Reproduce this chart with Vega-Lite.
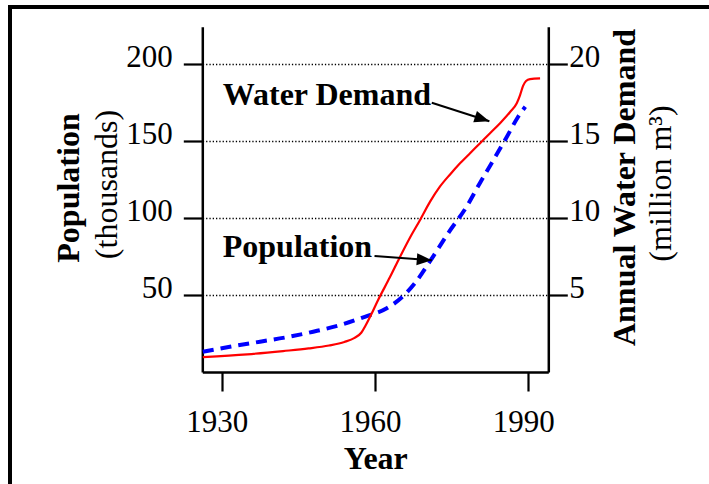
{
  "$schema": "https://vega.github.io/schema/vega-lite/v6.json",
  "width": 699,
  "height": 477,
  "autosize": "none",
  "padding": {"left": 10, "top": 7, "right": 0, "bottom": 0},
  "background": "white",
  "config": {
    "font": "Liberation Serif",
    "view": {"stroke": "black", "strokeWidth": 4, "strokeDash": [699, 1176, 477], "strokeCap": "square"},
    "axis": {
      "domainColor": "black", "tickColor": "black", "labelColor": "black", "titleColor": "black",
      "labelFont": "Liberation Serif", "titleFont": "Liberation Serif",
      "labelFontSize": 31, "titleFontSize": 32, "labelFontWeight": "normal",
      "domainWidth": 2.5, "tickWidth": 2.2, "tickSize": 19,
      "grid": false, "labelFlush": false, "labelOverlap": false
    }
  },
  "datasets": {
    "pop": [
      {"year": 1926.3, "pop": 13.2},
      {"year": 1931.6, "pop": 16.4},
      {"year": 1937.5, "pop": 19.7},
      {"year": 1942.7, "pop": 22.6},
      {"year": 1947.9, "pop": 26.2},
      {"year": 1953.2, "pop": 30.5},
      {"year": 1958.0, "pop": 35.9},
      {"year": 1962.3, "pop": 41.4},
      {"year": 1965.2, "pop": 48.4},
      {"year": 1967.8, "pop": 57.7},
      {"year": 1970.6, "pop": 71.2},
      {"year": 1974.3, "pop": 90.2},
      {"year": 1977.9, "pop": 107.4},
      {"year": 1980.5, "pop": 122.7},
      {"year": 1982.8, "pop": 135.7},
      {"year": 1985.8, "pop": 152.9},
      {"year": 1988.0, "pop": 165.9},
      {"year": 1989.4, "pop": 172.4}
    ],
    "demand": [
      {"year": 1926.3, "demand": 0.96},
      {"year": 1935.0, "demand": 1.15},
      {"year": 1942.0, "demand": 1.36},
      {"year": 1947.0, "demand": 1.53},
      {"year": 1951.0, "demand": 1.72},
      {"year": 1954.0, "demand": 1.95},
      {"year": 1956.0, "demand": 2.22},
      {"year": 1957.3, "demand": 2.55},
      {"year": 1958.2, "demand": 3.05},
      {"year": 1959.2, "demand": 3.70},
      {"year": 1960.6, "demand": 4.68},
      {"year": 1962.9, "demand": 6.15},
      {"year": 1964.9, "demand": 7.49},
      {"year": 1966.85, "demand": 8.74},
      {"year": 1968.81, "demand": 9.88},
      {"year": 1970.77, "demand": 11.07},
      {"year": 1972.72, "demand": 12.06},
      {"year": 1974.68, "demand": 12.84},
      {"year": 1976.63, "demand": 13.56},
      {"year": 1978.59, "demand": 14.22},
      {"year": 1980.55, "demand": 14.87},
      {"year": 1982.5, "demand": 15.52},
      {"year": 1984.46, "demand": 16.17},
      {"year": 1986.42, "demand": 16.90},
      {"year": 1987.73, "demand": 17.47},
      {"year": 1988.38, "demand": 18.00},
      {"year": 1988.96, "demand": 18.59},
      {"year": 1989.55, "demand": 18.91},
      {"year": 1990.33, "demand": 19.03},
      {"year": 1992.29, "demand": 19.08}
    ],
    "labels": [
      {"year": 1930.2, "pop": 173.5, "label": "Water Demand"},
      {"year": 1930.2, "pop": 74.9, "label": "Population"}
    ],
    "arrows": [
      {"name": "water", "year": 1971.1, "pop": 175.0, "year2": 1982.37, "pop2": 162.95},
      {"name": "pop", "year": 1959.9, "pop": 75.4, "year2": 1971.1, "pop2": 72.6}
    ],
    "heads": [
      {"name": "water", "year": 1982.37, "pop": 162.95},
      {"name": "pop", "year": 1971.1, "pop": 72.6}
    ]
  },
  "encoding": {
    "x": {
      "field": "year", "type": "quantitative",
      "scale": {"domain": [1926.2, 1993.9], "range": [192.3, 538.3], "zero": false, "nice": false},
      "axis": {
        "values": [1930, 1960, 1990], "format": "d", "offset": -112,
        "labelOffset": -5, "labelBaseline": "alphabetic", "labelPadding": 40.5,
        "title": "Year", "titleFontWeight": "bold", "titleBaseline": "alphabetic", "titleY": 96.3
      }
    }
  },
  "layer": [
    {
      "data": {"name": "pop"},
      "mark": {"type": "line", "color": "#0000ff", "strokeWidth": 4, "strokeDash": [11, 7], "interpolate": "monotone"},
      "encoding": {
        "y": {
          "field": "pop", "type": "quantitative",
          "scale": {"domain": [0, 224.4], "range": [365, 19.7], "zero": false, "nice": false},
          "axis": {
            "orient": "left", "offset": -192.3, "values": [50, 100, 150, 200],
            "grid": true, "gridColor": "black", "gridDash": [1.3, 2], "gridWidth": 1.3, "gridOpacity": 1,
            "labelPadding": 11, "labelBaseline": "alphabetic", "labelOffset": 2,
            "title": "Population", "titleFontWeight": "bold", "titleAngle": 270,
            "titleAlign": "center", "titleBaseline": "alphabetic", "titleX": -123.5, "titleY": 180.5
          }
        }
      }
    },
    {
      "data": {"name": "demand"},
      "mark": {"type": "line", "color": "#ff0000", "strokeWidth": 2.2, "interpolate": "monotone"},
      "encoding": {
        "y": {
          "field": "demand", "type": "quantitative",
          "scale": {"domain": [0, 22.44], "range": [365, 19.7], "zero": false, "nice": false},
          "axis": {
            "orient": "right", "offset": -160.7, "values": [5, 10, 15, 20],
            "labelPadding": 1.5, "labelBaseline": "alphabetic", "labelOffset": 2,
            "title": "Annual Water Demand", "titleFontWeight": "bold", "titleAngle": 270,
            "titleAlign": "center", "titleBaseline": "alphabetic", "titleX": 86.2, "titleY": 180
          }
        }
      }
    },
    {
      "data": {"name": "pop"},
      "mark": {"type": "line", "opacity": 0},
      "encoding": {
        "y": {
          "field": "pop", "type": "quantitative",
          "scale": {"domain": [0, 224.4], "range": [365, 19.7], "zero": false, "nice": false},
          "axis": {
            "orient": "left", "offset": -192.3, "domain": false, "ticks": false, "labels": false, "grid": false,
            "title": "(thousands)", "titleFontWeight": "normal", "titleAngle": 270,
            "titleAlign": "center", "titleBaseline": "alphabetic", "titleX": -86.3, "titleY": 177
          }
        }
      }
    },
    {
      "data": {"name": "demand"},
      "mark": {"type": "line", "opacity": 0},
      "encoding": {
        "y": {
          "field": "demand", "type": "quantitative",
          "scale": {"domain": [0, 22.44], "range": [365, 19.7], "zero": false, "nice": false},
          "axis": {
            "orient": "right", "offset": -160.7, "domain": false, "ticks": false, "labels": false, "grid": false,
            "title": "(million m³)", "titleFontWeight": "normal", "titleAngle": 270,
            "titleAlign": "center", "titleBaseline": "alphabetic", "titleX": 121.7, "titleY": 176
          }
        }
      }
    },
    {
      "data": {"name": "labels"},
      "mark": {"type": "text", "align": "left", "baseline": "alphabetic", "font": "Liberation Serif", "fontWeight": "bold", "fontSize": 32, "color": "black"},
      "encoding": {
        "y": {"field": "pop", "type": "quantitative", "scale": {"domain": [0, 224.4], "range": [365, 19.7], "zero": false, "nice": false}, "axis": null},
        "text": {"field": "label"}
      }
    },
    {
      "data": {"name": "arrows"},
      "mark": {"type": "rule", "color": "black", "strokeWidth": 2},
      "encoding": {
        "y": {"field": "pop", "type": "quantitative", "scale": {"domain": [0, 224.4], "range": [365, 19.7], "zero": false, "nice": false}, "axis": null},
        "x2": {"field": "year2"},
        "y2": {"field": "pop2"}
      }
    },
    {
      "data": {"name": "heads"},
      "transform": [{"filter": "datum.name == 'water'"}],
      "mark": {"type": "point", "shape": "M0,0L-2,-0.8L-2,0.8Z", "filled": true, "color": "black", "opacity": 1, "size": 225, "angle": 17.9, "strokeWidth": 0},
      "encoding": {
        "y": {"field": "pop", "type": "quantitative", "scale": {"domain": [0, 224.4], "range": [365, 19.7], "zero": false, "nice": false}, "axis": null}
      }
    },
    {
      "data": {"name": "heads"},
      "transform": [{"filter": "datum.name == 'pop'"}],
      "mark": {"type": "point", "shape": "M0,0L-2,-0.8L-2,0.8Z", "filled": true, "color": "black", "opacity": 1, "size": 225, "angle": 4.3, "strokeWidth": 0},
      "encoding": {
        "y": {"field": "pop", "type": "quantitative", "scale": {"domain": [0, 224.4], "range": [365, 19.7], "zero": false, "nice": false}, "axis": null}
      }
    }
  ],
  "resolve": {"scale": {"y": "independent"}, "axis": {"y": "independent"}}
}
